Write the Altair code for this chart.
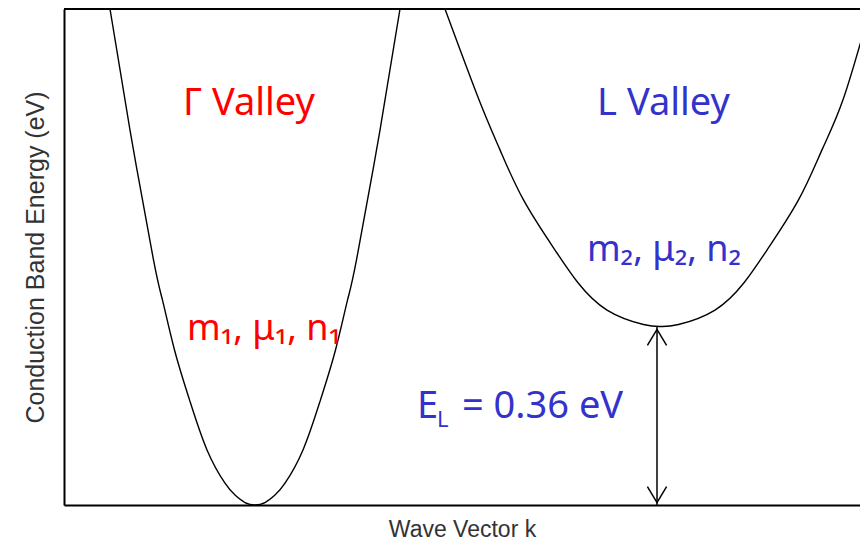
import altair as alt
import pandas as pd

# ---- data (k in arbitrary units, E in eV) ----
gamma_k = [-1.45, -1.25, -1.015, -0.925, -0.805, -0.655, -0.48, -0.30, -0.20, -0.10, 0.0,
           0.10, 0.20, 0.30, 0.48, 0.655, 0.805, 0.925, 1.015, 1.25, 1.45]
gamma_E = [1.00, 0.756, 0.494, 0.413, 0.3125, 0.212, 0.111, 0.044, 0.02, 0.005, 0.0,
           0.005, 0.02, 0.044, 0.111, 0.212, 0.3125, 0.413, 0.494, 0.756, 1.00]

l_k = [1.90, 2.24, 2.45, 2.685, 3.00, 3.23, 3.52, 3.885, 4.06,
       4.235, 4.60, 4.89, 5.12, 5.435, 5.67, 5.88, 6.12]
l_E = [1.00, 0.817, 0.716, 0.615, 0.514, 0.448, 0.393, 0.364, 0.36,
       0.364, 0.393, 0.448, 0.514, 0.615, 0.716, 0.817, 0.978]

arrow_k = 4.02
E_L = 0.36

center_text = ["Γ Valley", "L Valley", "m₁, μ₁, n₁", "m₂, μ₂, n₂"]
center_k = [-0.06, 4.085, 0.09, 4.09]
center_E = [0.786, 0.786, 0.333, 0.492]
center_color = ["#FF0000", "#3333CC", "#FF0000", "#3333CC"]
center_size = [38, 38, 36, 36]

left_text = ["E", "L", "= 0.36 eV"]
left_k = [1.62, 1.82, 2.07]
left_E = [0.175, 0.157, 0.175]
left_color = ["#3333CC", "#3333CC", "#3333CC"]
left_size = [38, 22, 38]

x_domain = [-1.91, 6.05]
y_domain = [0.0, 1.0]

# ---- tables ----
curves = pd.concat([
    pd.DataFrame({"k": gamma_k, "E": gamma_E, "valley": "Gamma"}),
    pd.DataFrame({"k": l_k, "E": l_E, "valley": "L"}),
])
arrow = pd.DataFrame({"k": [arrow_k], "E": [0.0], "E2": [E_L]})
tip_top = pd.DataFrame({"k": [arrow_k], "E": [E_L - 0.006]})
tip_bot = pd.DataFrame({"k": [arrow_k], "E": [0.005]})
ctext = pd.DataFrame({"t": center_text, "k": center_k, "E": center_E,
                      "c": center_color, "s": center_size})
ltext = pd.DataFrame({"t": left_text, "k": left_k, "E": left_E,
                      "c": left_color, "s": left_size})

title_font = "Liberation Sans"
X = alt.X("k:Q", scale=alt.Scale(domain=x_domain, nice=False, zero=False),
          axis=alt.Axis(title="Wave Vector k", ticks=False, labels=False, grid=False,
                        domainColor="#000000", domainWidth=2,
                        titleFont=title_font, titleFontSize=23, titleFontWeight="normal",
                        titleColor="#333333", titlePadding=13))
Y = alt.Y("E:Q", scale=alt.Scale(domain=y_domain, nice=False, zero=False),
          axis=alt.Axis(title="Conduction Band Energy (eV)", ticks=False, labels=False,
                        grid=False, domainColor="#000000", domainWidth=2,
                        titleFont=title_font, titleFontSize=25, titleFontWeight="normal",
                        titleColor="#333333", titlePadding=16))

lines = alt.Chart(curves).mark_line(color="#000000", strokeWidth=1.4, interpolate="natural",
                                    clip=True).encode(
    x=X, y=Y, detail="valley:N", order="k:Q")

top_border = alt.Chart(arrow).mark_rule(color="#000000", strokeWidth=2).encode(
    y=alt.value(0))

arrow_line = alt.Chart(arrow).mark_rule(color="#000000", strokeWidth=1.5).encode(
    x="k:Q", y="E:Q", y2="E2:Q")

head_top = alt.Chart(tip_top).mark_point(shape="M-0.6,1L0,0L0.6,1", size=1024, filled=False,
                                         color="#000000", strokeWidth=1.5, opacity=1).encode(
    x="k:Q", y="E:Q")
head_bot = alt.Chart(tip_bot).mark_point(shape="M-0.6,-1L0,0L0.6,-1", size=1024, filled=False,
                                         color="#000000", strokeWidth=1.5, opacity=1).encode(
    x="k:Q", y="E:Q")

text_c = alt.Chart(ctext).mark_text(align="center", baseline="alphabetic",
                                    font="Noto Sans").encode(
    x="k:Q", y="E:Q", text="t:N",
    color=alt.Color("c:N", scale=None), size=alt.Size("s:Q", scale=None))
text_l = alt.Chart(ltext).mark_text(align="left", baseline="alphabetic",
                                    font="Noto Sans").encode(
    x="k:Q", y="E:Q", text="t:N",
    color=alt.Color("c:N", scale=None), size=alt.Size("s:Q", scale=None))

chart = alt.layer(lines, top_border, arrow_line, head_top, head_bot, text_c, text_l).properties(
    width=796, height=496,
    padding={"left": 56, "top": 1, "right": 0, "bottom": 36},
    autosize="none",
    background="#FFFFFF",
).configure_view(stroke=None)

chart.save("out.html", embed_options={"renderer": "svg", "actions": False})
